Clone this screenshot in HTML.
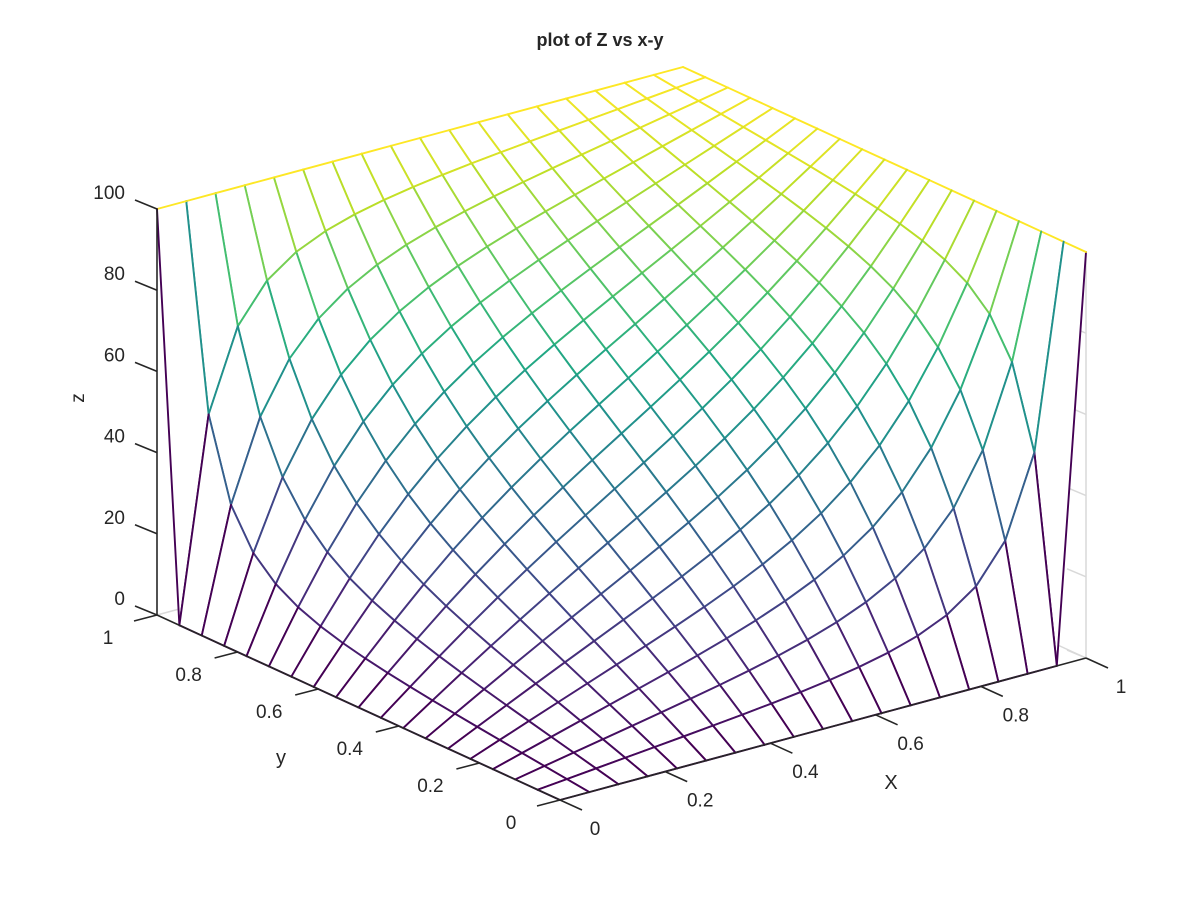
<!DOCTYPE html>
<html><head><meta charset="utf-8"><style>
body{margin:0;background:#fff}
svg text{font-family:"Liberation Sans",sans-serif;fill:#262626}
</style></head><body>
<svg id="chart" width="1200" height="900" viewBox="0 0 1200 900" xmlns="http://www.w3.org/2000/svg">
<rect width="1200" height="900" fill="#fff"/>
<text x="600" y="46" text-anchor="middle" font-size="18" font-weight="bold">plot of Z vs x-y</text>
<g id="box"></g>
<g id="mesh"></g>
<g id="axes"></g>
<text x="78" y="404" font-size="19" text-anchor="middle" transform="rotate(-90 78 398)">z</text>
<text x="281" y="764" font-size="20" text-anchor="middle">y</text>
<text x="891" y="789" font-size="20" text-anchor="middle">X</text>
</svg>
<script>
// boundary values of the plate (temperature)
const gridN = 19;
const edgeX0 = 0;     // x = 0 edge
const edgeY0 = 0;     // y = 0 edge
const edgeX1 = 100;   // x = 1 edge
const edgeY1 = 100;   // y = 1 edge
const xTicks = [0, 0.2, 0.4, 0.6, 0.8, 1];
const yTicks = [0, 0.2, 0.4, 0.6, 0.8, 1];
const zTicks = [0, 20, 40, 60, 80, 100];
const xTickLabels = ["0", "0.2", "0.4", "0.6", "0.8", "1"];
const yTickLabels = ["0", "0.2", "0.4", "0.6", "0.8", "1"];
const zTickLabels = ["0", "20", "40", "60", "80", "100"];

const NS = "http://www.w3.org/2000/svg";
const O = [560, 800], XV = [526, -142], YV = [-403, -185], ZS = 4.06;
function P(x, y, z) { return [O[0] + x * XV[0] + y * YV[0], O[1] + x * XV[1] + y * YV[1] - z * ZS]; }
function mk(tag, attrs, parent) { const e = document.createElementNS(NS, tag); for (const k in attrs) e.setAttribute(k, attrs[k]); parent.appendChild(e); return e; }

// solve Laplace on grid
const N = gridN;
let Z = [];
for (let j = 0; j < N; j++) { Z.push([]); for (let i = 0; i < N; i++) Z[j].push(50); }
function bc() {
  for (let k = 0; k < N; k++) { Z[k][0] = edgeX0; Z[0][k] = edgeY0; }
  for (let k = 0; k < N; k++) { Z[k][N - 1] = edgeX1; Z[N - 1][k] = edgeY1; }
}
bc();
for (let it = 0; it < 3000; it++) {
  for (let j = 1; j < N - 1; j++) for (let i = 1; i < N - 1; i++)
    Z[j][i] = 0.25 * (Z[j - 1][i] + Z[j + 1][i] + Z[j][i - 1] + Z[j][i + 1]);
}
const zmin = 0, zmax = 100;

const vir = [[68,1,84],[72,36,117],[65,68,135],[53,95,141],[42,120,142],[33,145,140],[34,168,132],[68,191,112],[122,209,81],[189,223,38],[253,231,37]];
function cmap(v) {
  let t = Math.max(0, Math.min(1, (v - zmin) / (zmax - zmin))) * (vir.length - 1);
  let a = Math.floor(t); if (a >= vir.length - 1) a = vir.length - 2;
  const f = t - a, c = vir[a].map((q, k) => Math.round(q + (vir[a + 1][k] - q) * f));
  return `rgb(${c[0]},${c[1]},${c[2]})`;
}

// grey back box
const box = document.getElementById('box');
const b1 = P(0, 1, 0), b2 = P(1, 1, 0), b3 = P(1, 0, 0), b4 = P(1, 0, 100);
let ln = mk('polyline', { points: `${b1} ${b2} ${b3}`, fill: 'none', stroke: '#d9d9d9', 'stroke-width': 1.5 }, box);


ln = mk('line', { x1: b3[0], y1: b3[1], x2: b4[0], y2: b4[1], stroke: '#d9d9d9', 'stroke-width': 1.5 }, box);


zTicks.forEach(z => {
  const p = P(1, 0, z);
  const t = mk('line', { x1: p[0], y1: p[1], x2: p[0] - 19, y2: p[1] - 8, stroke: '#d9d9d9', 'stroke-width': 1.5 }, box);
  
  
});

// mesh quads
const mesh = document.getElementById('mesh');
const h = 1 / (N - 1);
const quads = [];
for (let j = 0; j < N - 1; j++) for (let i = 0; i < N - 1; i++) quads.push([i, j]);
quads.sort((a, b) => (b[0] + b[1]) - (a[0] + a[1]));
quads.forEach(([i, j]) => {
  const g = mk('g', {}, mesh);
  
  
  const v = [[i, j], [i + 1, j], [i + 1, j + 1], [i, j + 1]];
  const pts = v.map(([a, b]) => P(a * h, b * h, Z[b][a]));
  mk('polygon', { points: pts.map(p => p.join(',')).join(' '), fill: '#fff', stroke: 'none' }, g);
  const edges = [[0, 1, 0], [1, 2, 1], [3, 2, 3], [0, 3, 0]];
  edges.forEach(([a, b, c]) => {
    const [ci, cj] = v[c];
    mk('line', { x1: pts[a][0], y1: pts[a][1], x2: pts[b][0], y2: pts[b][1], stroke: cmap(Z[cj][ci]), 'stroke-width': 1.9, 'stroke-linecap': 'round' }, g);
  });
});

// axes
const ax = document.getElementById('axes');
const o = P(0, 0, 0), yE = P(0, 1, 0), xE = P(1, 0, 0), zT = P(0, 1, 100);
ln = mk('polyline', { points: `${yE} ${o} ${xE}`, fill: 'none', stroke: '#262626', 'stroke-width': 1.6 }, ax);


ln = mk('line', { x1: yE[0], y1: yE[1], x2: zT[0], y2: zT[1], stroke: '#262626', 'stroke-width': 1.6 }, ax);


xTicks.forEach((x, k) => {
  const p = P(x, 0, 0);
  const t = mk('line', { x1: p[0], y1: p[1], x2: p[0] + 22, y2: p[1] + 10, stroke: '#262626', 'stroke-width': 1.6 }, ax);
  
  
  const l = mk('text', { x: p[0] + 35, y: p[1] + 35, 'font-size': 19, 'text-anchor': 'middle' }, ax);
  l.textContent = xTickLabels[k];
  
  
});
yTicks.forEach((y, k) => {
  const p = P(0, y, 0);
  const t = mk('line', { x1: p[0], y1: p[1], x2: p[0] - 23, y2: p[1] + 6, stroke: '#262626', 'stroke-width': 1.6 }, ax);
  
  
  const l = mk('text', { x: p[0] - 49, y: p[1] + 29, 'font-size': 19, 'text-anchor': 'middle' }, ax);
  l.textContent = yTickLabels[k];
  
  
});
zTicks.forEach((z, k) => {
  const p = P(0, 1, z);
  const t = mk('line', { x1: p[0], y1: p[1], x2: p[0] - 22, y2: p[1] - 9, stroke: '#262626', 'stroke-width': 1.6 }, ax);
  
  
  const l = mk('text', { x: 125, y: p[1] - 10, 'font-size': 19, 'text-anchor': 'end' }, ax);
  l.textContent = zTickLabels[k];
  
  
});
</script>
</body></html>
